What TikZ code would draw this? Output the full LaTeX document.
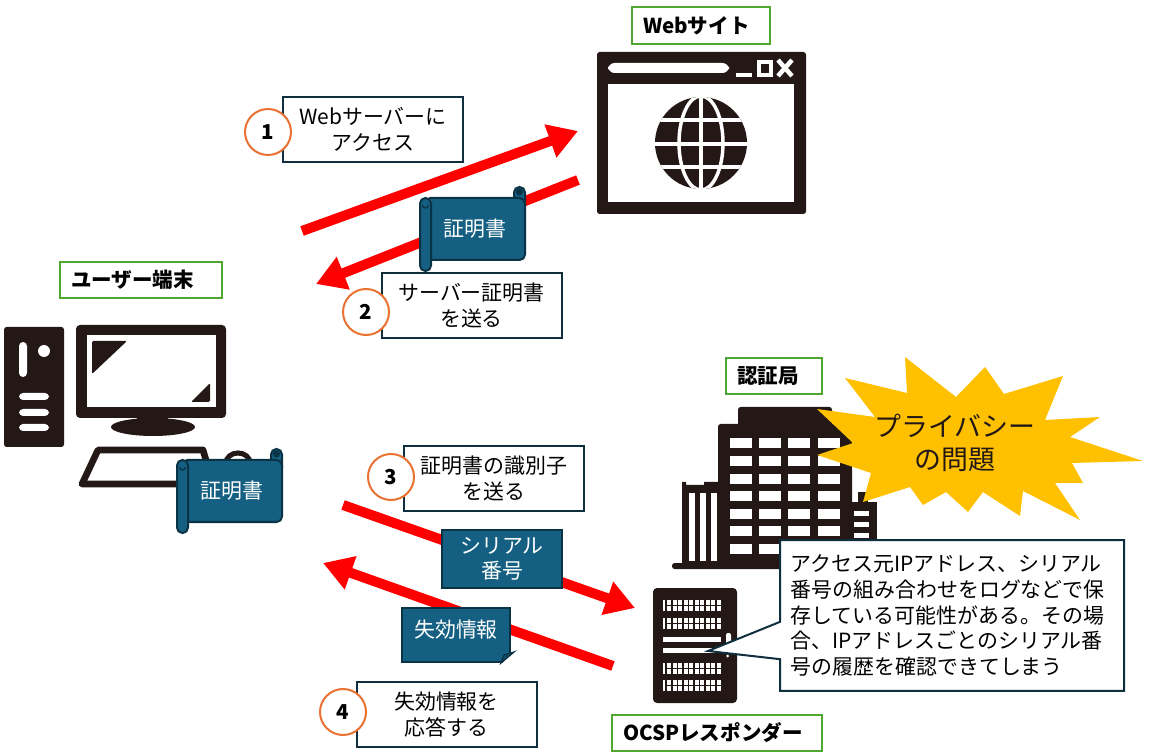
\documentclass[tikz,border=0pt]{standalone}
\usepackage{fontspec}
\setmainfont{Noto Sans CJK JP}
\usetikzlibrary{arrows.meta, calc, shapes.callouts}
\definecolor{iconblack}{HTML}{231815}
\definecolor{notedark}{HTML}{0F2E3E}
\definecolor{certblue}{HTML}{156082}
\definecolor{certedge}{HTML}{0B3346}
\definecolor{labelgreen}{HTML}{4EA72E}
\definecolor{steporange}{HTML}{E97132}
\definecolor{burstyellow}{HTML}{FFC000}

\begin{document}
\begin{tikzpicture}[
    x=0.75pt, y=-0.75pt,
    bodyfont/.style={font=\fontsize{15.7}{19}\selectfont},
    greenlabel/.style={draw=labelgreen, line width=1.5pt, fill=white, align=left, inner xsep=8.25pt, minimum height=27.5pt, font=\fontsize{15.4}{19}\selectfont\bfseries},
    notebox/.style={draw=notedark, line width=1.5pt, fill=white, minimum width=135pt, minimum height=48.75pt, align=center, bodyfont},
    stepcircle/.style={draw=steporange, line width=1.5pt, fill=white, circle, minimum size=34.5pt, inner sep=0pt, font=\fontsize{15.4}{19}\selectfont\bfseries},
    redarrow/.style={draw=red, line width=7.5pt, -{Triangle[length=22pt, width=25pt]}},
    bluebox/.style={draw=certedge, line width=1.5pt, fill=certblue, text=white, align=center, inner sep=0pt, bodyfont},
    rollpart/.style={draw=certedge, line width=1.5pt, fill=certblue, rounded corners=4pt},
    certscroll/.pic={
        \path[rollpart] (39,-42) rectangle (50,-18);
        \path[rollpart] (-50,-31) rectangle (50,31);
        \path[rollpart] (-55,-31) rectangle (-44,42);
        \draw[certedge, line width=1pt] (-52.5,-24) arc[start angle=180, end angle=0, radius=3];
        \fill[certedge] (44.5,-37) circle[radius=3.5];
        \node[text=white, bodyfont] (-label) at (0,0) {証明書};
    }
]
\useasboundingbox (0,0) rectangle (1150,755);

% Website window
\fill[iconblack, rounded corners=2pt] (597,52) rectangle (806,214);
\fill[white] (608,84) rectangle (794,202);
\fill[white, rounded corners=5pt] (608,63) rectangle (729,73);
\fill[white] (736,73) rectangle (752,77);
\draw[white, line width=2.6pt] (759,62) rectangle (771,75);
\draw[white, line width=3.4pt] (778,60) -- (792,76) (792,60) -- (778,76);
\fill[iconblack] (701,143) circle[radius=46];
\begin{scope}
    \clip (701,143) circle[radius=46];
    \draw[white, line width=2.6pt] (650,120) -- (752,120) (650,144) -- (752,144) (650,167) -- (752,167) (701,90) -- (701,195);
    \draw[white, line width=2.6pt] (701,143) ellipse[x radius=22, y radius=47];
\end{scope}

% User terminal
\fill[iconblack, rounded corners=2pt] (4,327) rectangle (64,447);
\fill[white, rounded corners=3pt] (19,342) rectangle (27,377);
\fill[white] (44,351) circle[radius=6];
\foreach \by in {393,409,424}
    \fill[white, rounded corners=3pt] (19,\by) rectangle +(30,7);
\fill[iconblack, rounded corners=3pt] (76,325) rectangle (226,418);
\fill[white] (87,335) rectangle (216,407);
\fill[iconblack, rounded corners=1pt] (92,341) -- (127,341) -- (92,374) -- cycle;
\fill[iconblack, rounded corners=1pt] (210,383) -- (210,402) -- (191,402) -- cycle;
\fill[iconblack] (137,417) rectangle (168,423);
\fill[iconblack] (153,427) ellipse[x radius=42, y radius=9];
\draw[iconblack, line width=5pt, line join=round] (98,450) -- (203,450) -- (213,484) -- (82,484) -- cycle;
\draw[iconblack, line width=3.8pt] (238,463) ellipse[x radius=12, y radius=10];

% CA building
\fill[iconblack, rounded corners=2pt] (738,407) rectangle (832,430);
\fill[iconblack, rounded corners=2pt] (718,424) rectangle (852,565);
\fill[iconblack] (682,482) -- (686,482) -- (686,485) -- (704,485) -- (704,482) -- (718,482) -- (718,565) -- (682,565) -- cycle;
\fill[iconblack] (852,502) rectangle (877,565);
\fill[iconblack] (858,492) rectangle (868,502);
\fill[iconblack, rounded corners=2pt] (672,563) rectangle (877,569);
\foreach \wx in {730,759,788,818}
    \foreach \wy in {438,456,474,491,509,526,544}
        \fill[white] (\wx,\wy) rectangle +(22,10);
\foreach \wx in {689,700,711}
    \fill[white] (\wx,493) rectangle +(5.5,68);
\foreach \wy in {511,522,533}
    \fill[white] (854,\wy) rectangle +(15,5);

% OCSP server
\fill[iconblack, rounded corners=3pt] (653,588) rectangle (737,703);
\foreach \vy in {600,618,663,680} {
    \fill[white] (663,\vy) rectangle +(2,11);
    \foreach \col in {0,...,9}
        \foreach \row in {0,1}
            \fill[white] ({667+\col*5.5},{\vy+\row*6}) rectangle +(4,4.5);
}
\fill[white] (663,637) rectangle (721,642);
\fill[white] (663,648) rectangle (721,653);
\fill[white, rounded corners=1.5pt] (726,633) rectangle (731,648);
\fill[white] (727.5,656) circle[radius=1.5];

% Burst
\fill[burstyellow] (845,378) -- (907,393) -- (905,357) -- (956,397) -- (985,367) -- (1004,394)
    -- (1063,376) -- (1045,420) -- (1100,417) -- (1070,437) -- (1143,461) -- (1072,463)
    -- (1083,483) -- (1055,483) -- (1080,520) -- (1023,491) -- (1020,516) -- (983,492)
    -- (968,512) -- (946,492) -- (923,505) -- (910,487) -- (863,502) -- (871,473)
    -- (817,455) -- (853,443) -- (817,409) -- (875,417) -- cycle;
\node[font=\fontsize{20.2}{24.7}\selectfont, align=center, text=iconblack] (privacy) at (955,443) {プライバシー\\の問題};

% Arrows
\coordinate (accessfrom) at (302,231);
\coordinate (accessto) at (578,131);
\coordinate (certfrom) at (578,180);
\coordinate (certto) at (316,284);
\coordinate (serialfrom) at (343,505);
\coordinate (serialto) at (635,608);
\coordinate (revokefrom) at (613,666);
\coordinate (revoketo) at (323,563);
\draw[redarrow] (accessfrom) -- (accessto);
\draw[redarrow] (certfrom) -- (certto);
\draw[redarrow] (serialfrom) -- (serialto);
\draw[redarrow] (revokefrom) -- (revoketo);

% Titles
\node[greenlabel, text width=87pt] (websitetitle) at (701,25.5) {Webサイト};
\node[greenlabel, text width=105pt] (usertitle) at (141,280) {ユーザー端末};
\node[greenlabel, text width=55.5pt] (catitle) at (774,376) {認証局};
\node[greenlabel, text width=141pt] (ocsptitle) at (717,733) {OCSPレスポンダー};

% Steps
\node[notebox] (note1) at (373,129.5) {Webサーバーに\\アクセス};
\node[stepcircle] (step1) at (268,132) {1};
\node[notebox] (note2) at (471.5,305.5) {サーバー証明書\\を送る};
\node[stepcircle] (step2) at (366,312) {2};
\node[notebox] (note3) at (494,478.5) {証明書の識別子\\を送る};
\node[stepcircle] (step3) at (391,477) {3};
\node[notebox] (note4) at (446.5,714.5) {失効情報を\\応答する};
\node[stepcircle] (step4) at (343,712) {4};

% Certificates and data
\pic (certsite) at (475,229) {certscroll};
\pic (certuser) at (232,491) {certscroll};
\node[bluebox, minimum width=90pt, minimum height=43.5pt] (serial) at (502,559) {シリアル\\番号};
\node[bluebox, minimum width=81pt, minimum height=40.5pt] (failbox) at (456,635) {};
\fill[white] ($(failbox.south east)+(-10,1.5)$) -- ($(failbox.south east)+(1.5,-11)$) -- ($(failbox.south east)+(1.5,1.5)$) -- cycle;
\draw[certedge, line width=1pt, fill=certblue!80!black] ($(failbox.south east)+(-10,0)$) -- ($(failbox.south east)+(-7,-8)$) -- ($(failbox.south east)+(3,-11)$) -- cycle;
\node[text=white, bodyfont] (failtext) at (456,630) {失効情報};

% Callout
\node[rectangle callout, callout absolute pointer={(708,651)}, callout pointer width=28pt, draw=notedark, line width=1.5pt, fill=white, text width=242pt, inner xsep=8pt, minimum height=113pt, align=left, font=\fontsize{15.7}{19.2}\selectfont] (logcallout) at (952,615.5) {アクセス元IPアドレス、シリアル\\番号の組み合わせをログなどで保\\存している可能性がある。その場\\合、IPアドレスごとのシリアル番\\号の履歴を確認できてしまう};
\end{tikzpicture}
\end{document}
